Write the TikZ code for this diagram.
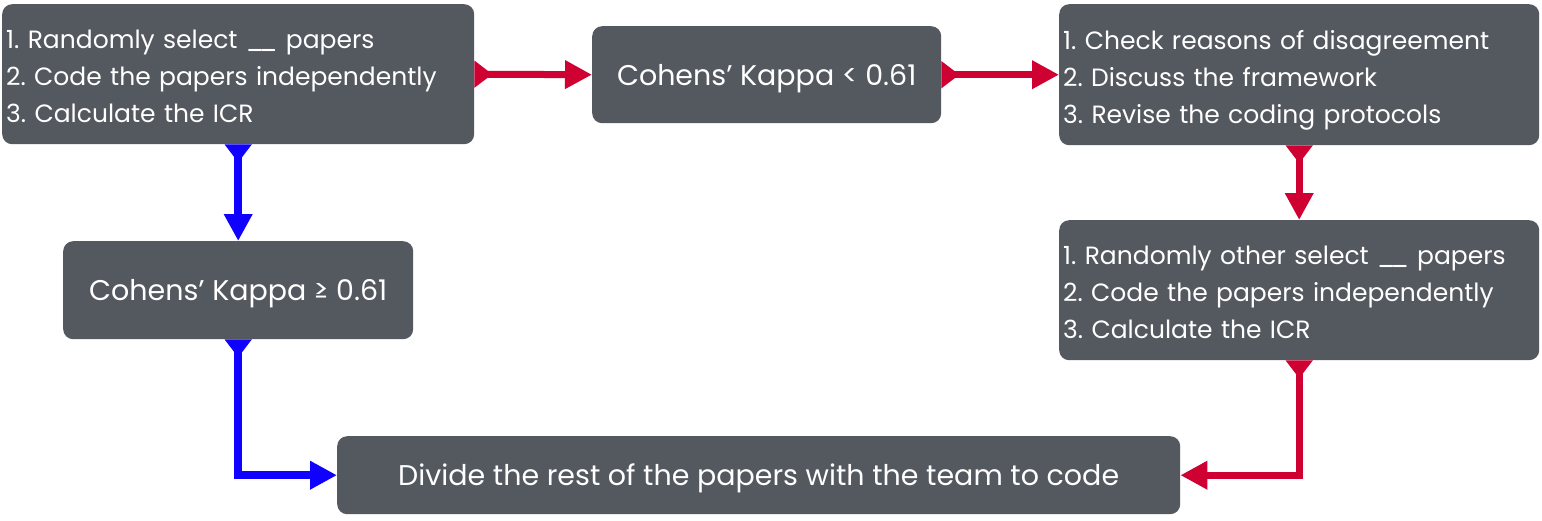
\documentclass[tikz,border=0pt]{standalone}
\usepackage{fontspec}
\setmainfont{Poppins}
\usetikzlibrary{arrows.meta}
\definecolor{boxgray}{HTML}{54585F}
\definecolor{redarr}{HTML}{CF0032}
\definecolor{bluearr}{HTML}{1000FF}
\frenchspacing
\newcommand{\blank}{\_\kern-5pt\_}
\newcommand{\listlines}[1]{\raisebox{0pt}[\dimexpr\height+8pt\relax][\depth]{\begin{tabular}{@{}l@{}}#1\end{tabular}}}
\newcommand{\oneline}[1]{\raisebox{0pt}[\dimexpr\height+7pt\relax][\depth]{#1}}
\tikzset{
  box/.style={fill=boxgray, rounded corners=10pt, text=white, inner sep=0pt, anchor=north west},
  listbox/.style={box, align=left, inner xsep=4pt, font=\fontsize{25}{37}\selectfont},
  onebox/.style={box, align=center, font=\fontsize{28.5}{32}\selectfont},
  conn/.style={line width=#1, {Triangle[reversed,width=26pt,length=18pt]}-{Triangle[width=27pt,length=27pt]}},
  redconn/.style={conn=7pt, draw=redarr},
  blueconn/.style={conn=8pt, draw=bluearr},
}
\begin{document}
\begin{tikzpicture}[x=1pt,y=-1pt]
\useasboundingbox (0,0) rectangle (1542,520);
\node[listbox, minimum width=472pt, minimum height=140pt, text width=464pt] (b1) at (2,4)
  {\listlines{1. Randomly select \blank{} papers\\2. Code the papers independently\\3. Calculate the ICR}};
\node[onebox, minimum width=349pt, minimum height=97pt] (b2) at (592,26) {\oneline{Cohens’ Kappa < 0.61}};
\node[listbox, minimum width=480pt, minimum height=141pt, text width=472pt] (b3) at (1059,4)
  {\listlines{1. Check reasons of disagreement\\2. Discuss the framework\\3. Revise the coding protocols}};
\node[onebox, minimum width=350pt, minimum height=98pt] (b4) at (63,241) {\oneline{Cohens’ Kappa ≥ 0.61}};
\node[listbox, minimum width=480pt, minimum height=140pt, text width=472pt] (b5) at (1059,220)
  {\listlines{1. Randomly other select \blank{} papers\\2. Code the papers independently\\3. Calculate the ICR}};
\node[onebox, minimum width=843pt, minimum height=78pt] (b6) at (337,436) {\oneline{Divide the rest of the papers with the team to code}};
\draw[redconn] (b1.east) -- (b2.west);
\draw[redconn] (b2.east) -- (b3.west);
\draw[redconn] (b3.south) -- (b5.north);
\draw[redconn] (b5.south) |- (b6.east);
\draw[blueconn] (b1.south) -- (b4.north);
\draw[blueconn] (b4.south) |- (b6.west);
\end{tikzpicture}
\end{document}
